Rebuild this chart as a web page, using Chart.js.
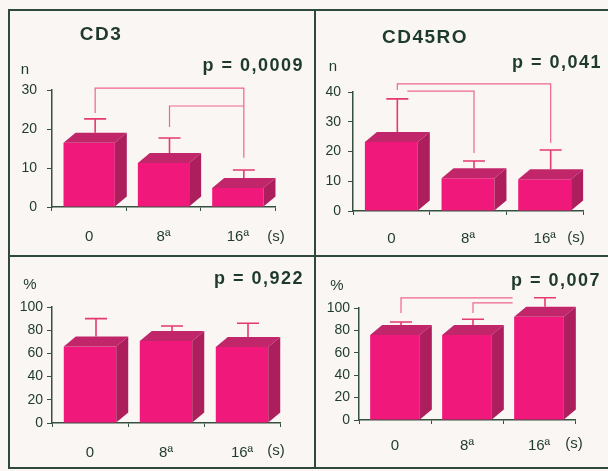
<!DOCTYPE html>
<html>
<head>
<meta charset="utf-8">
<script src="https://cdn.jsdelivr.net/npm/chart.js@4.4.1/dist/chart.umd.min.js"></script>
<style>
    body { margin: 0; width: 608px; height: 471px; overflow: hidden; position: relative; background: #faf6f3; }
    canvas { position: absolute; left: 0; top: 0; }
    .rule { position: absolute; background: #2f4a3c; }
</style>
</head>
<body>
<div class="rule" style="left:8px; top:9px; width:600px; height:2px"></div>
<div class="rule" style="left:8px; top:9px; width:2px; height:460px"></div>
<div class="rule" style="left:314px; top:9px; width:2px; height:460px"></div>
<div class="rule" style="left:8px; top:255px; width:600px; height:2px"></div>
<div class="rule" style="left:8px; top:467px; width:600px; height:2px"></div>

<canvas id="cd3-n" width="608" height="471"></canvas>
<canvas id="cd45-n" width="608" height="471"></canvas>
<canvas id="cd3-pct" width="608" height="471"></canvas>
<canvas id="cd45-pct" width="608" height="471"></canvas>

<script>
// categories (weeks)
const weeks = ['0', '8ª', '16ª'];

// CD3, absolute number
const cd3Mean = [16.5, 11.3, 4.9];
const cd3Sd = [6.1, 6.4, 4.6];
// CD45RO, absolute number
const cd45Mean = [23.2, 11.0, 10.7];
const cd45Sd = [14.5, 5.8, 9.8];
// CD3, percentage
const cd3PctMean = [66, 70.7, 65.5];
const cd3PctSd = [24, 12.9, 20.5];
// CD45RO, percentage
const cd45PctMean = [76, 76, 92.2];
const cd45PctSd = [11.5, 14, 17];

// axis ranges: [max, tick step, label step]
const cd3Axis = [30, 5, 10];
const cd45Axis = [40, 5, 10];
const pctAxis = [100, 10, 20];

// significance brackets: from / to category, level, leg ends (null = no leg)
const cd3Brackets = [
    { from: 0, to: 2, level: 30.5, leftEnd: 24.1, rightEnd: 12.6 },
    { from: 1, to: 2, level: 25.9, leftEnd: 20.5, rightEnd: null }
];
const cd45Brackets = [
    { from: 0, to: 2, level: 42.7, leftEnd: 40.7, rightEnd: 22.9 },
    { from: 0, to: 1, level: 40.3, leftEnd: null, rightEnd: 19.5 }
];
const cd45PctBrackets = [
    { from: 0, to: 1.55, level: 109, leftEnd: 95.5, rightEnd: null },
    { from: 1, to: 1.55, level: 104.5, leftEnd: 95.5, rightEnd: null }
];

const colors = {
    front: '#f0187a',
    top: '#c2266a',
    side: '#ac1e5c',
    error: '#e53a70',
    bracket: '#ee6590',
    axis: '#35503f',
    text: '#1d3a2c'
};
const DX = 12, DY = 10;     // box depth
const Y_W = 40, X_H = 50;   // fixed axis sizes
const FONT = '"Liberation Sans", Arial, sans-serif';

// Draws the 3D faces, error bars, brackets and the panel texts
const panelDecor = {
    id: 'panelDecor',
    afterDatasetsDraw(chart, args, o) {
        const ctx = chart.ctx;
        const xs = chart.scales.x, ys = chart.scales.y;
        const bars = chart.getDatasetMeta(0).data;

        const poly = (pts, fill) => {
            ctx.beginPath();
            ctx.moveTo(pts[0][0], pts[0][1]);
            pts.slice(1).forEach(p => ctx.lineTo(p[0], p[1]));
            ctx.closePath();
            ctx.fillStyle = fill;
            ctx.fill();
        };

        ctx.save();
        bars.forEach(bar => {
            const l = bar.x - bar.width / 2, r = bar.x + bar.width / 2;
            const t = bar.y, b = bar.base;
            poly([[l, t], [l + DX, t - DY], [r + DX, t - DY], [r, t]], colors.top);
            poly([[r, t], [r + DX, t - DY], [r + DX, b - DY], [r, b]], colors.side);
        });

        // error bars (mean + sd), from the centre of the top face
        ctx.strokeStyle = colors.error;
        ctx.lineWidth = 1.6;
        const mean = chart.data.datasets[0].data;
        o.sd.forEach((sd, i) => {
            const x = bars[i].x + DX / 2;
            const yTop = ys.getPixelForValue(mean[i] + sd);
            ctx.beginPath();
            ctx.moveTo(x, bars[i].y - DY);
            ctx.lineTo(x, yTop);
            ctx.moveTo(x - 11, yTop);
            ctx.lineTo(x + 11, yTop);
            ctx.stroke();
        });

        // significance brackets
        ctx.strokeStyle = colors.bracket;
        ctx.lineWidth = 1.2;
        (o.brackets || []).forEach(br => {
            const x1 = xs.getPixelForValue(br.from) + DX / 2;
            const x2 = xs.getPixelForValue(br.to) + DX / 2;
            const yl = ys.getPixelForValue(br.level);
            ctx.beginPath();
            if (br.leftEnd !== null) {
                ctx.moveTo(x1, ys.getPixelForValue(br.leftEnd));
                ctx.lineTo(x1, yl);
            } else {
                ctx.moveTo(x1 + 10, yl);
            }
            ctx.lineTo(x2, yl);
            if (br.rightEnd !== null) ctx.lineTo(x2, ys.getPixelForValue(br.rightEnd));
            ctx.stroke();
        });

        // texts
        ctx.fillStyle = colors.text;
        ctx.textBaseline = 'middle';
        if (o.title) {
            ctx.font = 'bold 19px ' + FONT;
            ctx.letterSpacing = '1.5px';
            ctx.textAlign = 'center';
            ctx.fillText(o.title, o.titleX, o.titleY);
        }
        ctx.font = 'bold 18px ' + FONT;
        ctx.letterSpacing = '1.5px';
        ctx.textAlign = o.pAlign;
        ctx.fillText(o.pText, o.pX, o.pY);

        ctx.letterSpacing = '0px';
        ctx.font = '15px ' + FONT;
        ctx.textAlign = 'center';
        ctx.fillText(o.unit, o.unitX, o.unitY);
        ctx.fillText('(s)', o.sX, o.sY);
        ctx.restore();
    }
};

function makePanel(id, mean, sd, axis, box, decor) {
    const [max, step, labelStep] = axis;
    return new Chart(document.getElementById(id), {
        type: 'bar',
        data: {
            labels: weeks,
            datasets: [{
                data: mean,
                backgroundColor: colors.front,
                borderWidth: 0,
                barPercentage: 0.69,
                categoryPercentage: 1
            }]
        },
        options: {
            responsive: false,
            animation: false,
            events: [],
            layout: {
                padding: {
                    left: box.axisX - Y_W,
                    top: box.top,
                    right: 608 - box.right,
                    bottom: 471 - box.bottom - X_H
                }
            },
            plugins: {
                legend: { display: false },
                tooltip: { enabled: false },
                panelDecor: Object.assign({ sd: sd }, decor)
            },
            scales: {
                x: {
                    afterFit: s => { s.height = X_H; },
                    border: { color: colors.axis, width: 1.5 },
                    grid: { drawOnChartArea: false, tickLength: 4, color: colors.axis, offset: true },
                    ticks: { color: colors.text, font: { family: FONT, size: 15 }, padding: box.xPad }
                },
                y: {
                    min: 0,
                    max: max,
                    afterFit: s => { s.width = Y_W; },
                    border: { color: colors.axis, width: 1.5 },
                    grid: { drawOnChartArea: false, tickLength: 5, color: colors.axis },
                    ticks: {
                        stepSize: step,
                        color: colors.text,
                        font: { family: FONT, size: 14 },
                        padding: box.yPad,
                        callback: v => (v % labelStep === 0 ? v : '')
                    }
                }
            }
        },
        plugins: [panelDecor]
    });
}

makePanel('cd3-n', cd3Mean, cd3Sd, cd3Axis,
    { axisX: 52, right: 275, top: 90, bottom: 207, xPad: 17, yPad: 10 },
    { brackets: cd3Brackets, title: 'CD3', titleX: 101, titleY: 35,
      pText: 'p = 0,0009', pAlign: 'right', pX: 304, pY: 66,
      unit: 'n', unitX: 25, unitY: 70, sX: 276, sY: 237 });

makePanel('cd45-n', cd45Mean, cd45Sd, cd45Axis,
    { axisX: 353, right: 583, top: 92, bottom: 211, xPad: 15, yPad: 7 },
    { brackets: cd45Brackets, title: 'CD45RO', titleX: 425, titleY: 38,
      pText: 'p = 0,041', pAlign: 'left', pX: 512, pY: 63,
      unit: 'n', unitX: 333, unitY: 67, sX: 576, sY: 238 });

makePanel('cd3-pct', cd3PctMean, cd3PctSd, pctAxis,
    { axisX: 52, right: 280, top: 307, bottom: 423, xPad: 17, yPad: 4 },
    { brackets: [], title: null,
      pText: 'p = 0,922', pAlign: 'right', pX: 304, pY: 279,
      unit: '%', unitX: 30, unitY: 285, sX: 276, sY: 451 });

makePanel('cd45-pct', cd45PctMean, cd45PctSd, pctAxis,
    { axisX: 359, right: 575, top: 308, bottom: 420, xPad: 13, yPad: 4 },
    { brackets: cd45PctBrackets, title: null,
      pText: 'p = 0,007', pAlign: 'left', pX: 511, pY: 281,
      unit: '%', unitX: 337, unitY: 286, sX: 574, sY: 444 });
</script>
</body>
</html>
